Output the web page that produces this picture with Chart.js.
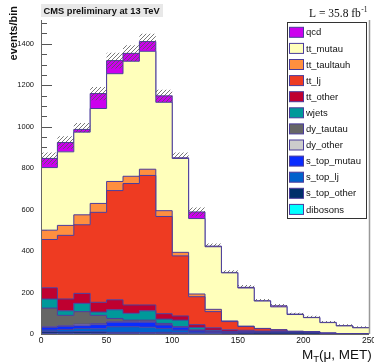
<!DOCTYPE html>
<html>
<head>
<meta charset="utf-8">
<script src="https://cdn.jsdelivr.net/npm/chart.js@4/dist/chart.umd.min.js"></script>
<style>
  html, body { margin: 0; padding: 0; background: #fff; }
  canvas { display: block; }
</style>
</head>
<body>
<canvas id="c" width="374" height="364"></canvas>
<script>
// bin edges of M_T(mu, MET), 20 bins of 12.5
const binEdges = [0, 12.5, 25, 37.5, 50, 62.5, 75, 87.5, 100, 112.5, 125,
  137.5, 150, 162.5, 175, 187.5, 200, 212.5, 225, 237.5, 250];

// stacked backgrounds, bottom of the stack first
const dibosons    = [3, 3, 3, 3, 2, 2, 2, 2, 2, 1, 1, 0, 0, 0, 0, 0, 0, 0, 0, 0];
const s_top_other = [8, 7, 8, 7, 6, 6, 5, 6, 4, 3, 3, 4, 6, 8, 9, 9, 8, 2, 1, 1];
const s_top_lj    = [8, 12, 16, 15, 27, 27, 26, 19, 13, 6, 4, 2, 2, 1, 1, 1, 1, 1, 0, 0];
const s_top_mutau = [13, 15, 13, 20, 22, 22, 24, 16, 14, 7, 4, 2, 2, 1, 1, 0, 0, 0, 0, 0];
const dy_other    = [3, 3, 7, 5, 2, 2, 2, 2, 2, 1, 0, 0, 0, 0, 0, 0, 0, 0, 0, 0];
const dy_tautau   = [90, 50, 61, 40, 16, 8, 8, 6, 0, 2, 1, 1, 0, 0, 0, 0, 0, 0, 0, 0];
const wjets       = [44, 22, 40, 16, 42, 33, 45, 21, 32, 12, 5, 3, 2, 1, 0, 0, 0, 0, 0, 0];
const tt_other    = [54, 57, 48, 47, 48, 40, 28, 26, 20, 13, 12, 8, 6, 3, 4, 1, 1, 0, 0, 0];
const tt_lj       = [233, 307, 331, 434, 527, 586, 625, 469, 290, 135, 78, 40, 18, 12, 5, 2, 1, 1, 0, 0];
const tt_taultauh = [45, 48, 48, 43, 44, 35, 30, 28, 17, 13, 11, 3, 2, 1, 1, 0, 0, 0, 0, 0];
const tt_mutau    = [302, 355, 399, 458, 520, 555, 569, 523, 453, 364, 302, 232, 184, 132, 110, 81, 68, 51, 38, 29];
const qcd         = [44, 45, 13, 72, 63, 38, 47, 31, 3, 32, 3, 2, 3, 1, 5, 2, 1, 1, 1, 1];

// uncertainty on the total (hatched band)
const totalErr = [29, 30, 31, 32, 38, 39, 38, 30, 26, 21, 13, 11, 11, 9, 9, 7, 8, 7, 7, 6];

const yTicks = [0, 200, 400, 600, 800, 1000, 1200, 1400];
const xTicks = [0, 50, 100, 150, 200, 250];

const samples = [
  { label: "dibosons", data: dibosons, color: "#00ffff" },
  { label: "s_top_other", data: s_top_other, color: "#00306a" },
  { label: "s_top_lj", data: s_top_lj, color: "#0062cc" },
  { label: "s_top_mutau", data: s_top_mutau, color: "#0a2cff" },
  { label: "dy_other", data: dy_other, color: "#cccccc" },
  { label: "dy_tautau", data: dy_tautau, color: "#666666" },
  { label: "wjets", data: wjets, color: "#00999a" },
  { label: "tt_other", data: tt_other, color: "#bf0030" },
  { label: "tt_lj", data: tt_lj, color: "#ee3b22" },
  { label: "tt_taultauh", data: tt_taultauh, color: "#ff8f3f" },
  { label: "tt_mutau", data: tt_mutau, color: "#ffffbb" },
  { label: "qcd", data: qcd, color: "#cc00ee" },
];

const OUTLINE = "#4a3c9c";
const SANS = "'Liberation Sans', Arial, sans-serif";

// turn per-bin values into step points (last value repeated at the right edge)
function steps(vals) {
  return binEdges.map((e, i) => ({ x: e, y: vals[Math.min(i, vals.length - 1)] }));
}

const totals = binEdges.slice(0, -1).map((_, i) =>
  samples.reduce((s, d) => s + d.data[i], 0));
const bandLow = totals.map((t, i) => t - Math.min(totalErr[i], qcd[i]));
const bandHigh = totals.map((t, i) => t + totalErr[i]);

// hatch pattern for the error band
const pc = document.createElement("canvas");
pc.width = 4; pc.height = 4;
const pg = pc.getContext("2d");
pg.strokeStyle = "#555";
pg.lineWidth = 0.8;
pg.beginPath();
pg.moveTo(0, 4); pg.lineTo(4, 0);
pg.moveTo(-1, 1); pg.lineTo(1, -1);
pg.moveTo(3, 5); pg.lineTo(5, 3);
pg.stroke();
const hatch = pg.createPattern(pc, "repeat");

const datasets = samples.map((s, i) => ({
  label: s.label,
  data: steps(s.data),
  backgroundColor: s.color,
  borderColor: OUTLINE,
  borderWidth: 1,
  fill: i === 0 ? "origin" : "-1",
  stepped: true,
  pointRadius: 0,
  yAxisID: "y",
}));
datasets.push({
  label: "errLow",
  data: steps(bandLow),
  borderColor: "transparent",
  borderWidth: 0,
  fill: false,
  stepped: true,
  pointRadius: 0,
  yAxisID: "y2",
  order: -1,
});
datasets.push({
  label: "errHigh",
  data: steps(bandHigh),
  borderColor: "transparent",
  backgroundColor: hatch,
  borderWidth: 0,
  fill: "-1",
  stepped: true,
  pointRadius: 0,
  yAxisID: "y2",
  order: -1,
});

const rootStyle = {
  id: "rootStyle",
  beforeDatasetsDraw(chart) {
    // ticks point into the frame and sit under the histograms
    const { ctx, chartArea: a, scales } = chart;
    ctx.save();
    ctx.strokeStyle = "#555";
    ctx.lineWidth = 1;
    ctx.beginPath();
    for (let v = 0; v <= 1500; v += 50) {
      const y = Math.round(scales.y.getPixelForValue(v)) + 0.5;
      const len = v % 200 === 0 ? 11 : 6;
      ctx.moveTo(a.left, y);
      ctx.lineTo(a.left + len, y);
    }
    ctx.stroke();
    ctx.restore();
  },
  afterDraw(chart) {
    const { ctx, chartArea: a } = chart;
    ctx.save();

    // frame
    ctx.strokeStyle = "#666";
    ctx.lineWidth = 1;
    ctx.beginPath();
    ctx.moveTo(a.left + 0.5, a.top);
    ctx.lineTo(a.left + 0.5, a.bottom + 0.5);
    ctx.lineTo(a.right, a.bottom + 0.5);
    ctx.stroke();
    ctx.strokeStyle = "#999";
    ctx.lineWidth = 1.5;
    ctx.beginPath();
    ctx.moveTo(a.right + 0.5, a.top);
    ctx.lineTo(a.right + 0.5, a.bottom);
    ctx.stroke();

    // title box
    ctx.fillStyle = "#e8e8e8";
    ctx.fillRect(41, 4, 122, 13);
    ctx.fillStyle = "#111";
    ctx.font = "bold 9.3px " + SANS;
    ctx.textBaseline = "middle";
    ctx.textAlign = "left";
    ctx.fillText("CMS preliminary at 13 TeV", 43.5, 11);

    // luminosity
    ctx.font = "11.5px 'Liberation Serif', 'Times New Roman', serif";
    ctx.textBaseline = "alphabetic";
    const lumi = "L = 35.8 fb";
    ctx.fillText(lumi, 309, 16.5);
    const lw = ctx.measureText(lumi).width;
    ctx.font = "7.5px 'Liberation Serif', 'Times New Roman', serif";
    ctx.fillText("-1", 309 + lw + 0.5, 11.5);

    // y title
    ctx.save();
    ctx.translate(14, 6);
    ctx.rotate(-Math.PI / 2);
    ctx.font = "bold 11px " + SANS;
    ctx.textAlign = "right";
    ctx.textBaseline = "middle";
    ctx.fillStyle = "#111";
    ctx.fillText("events/bin", 0, 0);
    ctx.restore();

    // x title with subscript
    ctx.fillStyle = "#111";
    ctx.textAlign = "left";
    ctx.textBaseline = "alphabetic";
    let x = 302;
    ctx.font = "13.5px " + SANS;
    ctx.fillText("M", x, 359);
    x += ctx.measureText("M").width;
    ctx.font = "9.5px " + SANS;
    ctx.fillText("T", x, 362);
    x += ctx.measureText("T").width;
    ctx.font = "13.5px " + SANS;
    ctx.fillText("(\u03bc, MET)", x, 359);

    // legend
    const lx = 287, ly = 22, lwid = 79, lh = 196;
    ctx.fillStyle = "#fff";
    ctx.fillRect(lx, ly, lwid, lh);
    ctx.strokeStyle = "#333";
    ctx.lineWidth = 1;
    ctx.strokeRect(lx + 0.5, ly + 0.5, lwid, lh);
    ctx.font = "9.5px " + SANS;
    ctx.textBaseline = "middle";
    const entries = chart.data.datasets.filter(d => d.yAxisID === "y").slice().reverse();
    entries.forEach((d, i) => {
      const cy = 32.3 + i * 16.1;
      ctx.fillStyle = d.backgroundColor;
      ctx.fillRect(289.5, cy - 5, 14, 10);
      ctx.strokeStyle = OUTLINE;
      ctx.strokeRect(289.5, cy - 5, 14, 10);
      ctx.fillStyle = "#111";
      ctx.fillText(d.label, 306, cy + 0.5);
    });

    ctx.restore();
  },
};

new Chart(document.getElementById("c"), {
  type: "line",
  data: { datasets },
  plugins: [rootStyle],
  options: {
    responsive: false,
    animation: false,
    layout: { padding: { top: 20, right: 5, left: 0, bottom: 0 } },
    plugins: {
      legend: { display: false },
      tooltip: { enabled: false },
      title: { display: false },
    },
    scales: {
      x: {
        type: "linear",
        min: 0,
        max: 250,
        grid: { display: false, drawTicks: false },
        border: { display: false },
        afterBuildTicks: s => { s.ticks = xTicks.map(v => ({ value: v })); },
        ticks: {
          font: { family: "'Liberation Sans', Arial, sans-serif", size: 8.5 },
          color: "#111",
          padding: 2,
          maxRotation: 0,
          callback: v => String(v),
        },
        afterFit: s => { s.height = 30; s.paddingLeft = 0; s.paddingRight = 0; },
      },
      y: {
        type: "linear",
        stacked: true,
        min: 0,
        max: 1515,
        grid: { display: false, drawTicks: false },
        border: { display: false },
        afterBuildTicks: s => { s.ticks = yTicks.map(v => ({ value: v })); },
        ticks: {
          font: { family: "'Liberation Sans', Arial, sans-serif", size: 7.5 },
          color: "#111",
          padding: 7,
          callback: v => String(v),
        },
        afterFit: s => { s.width = 41; s.paddingTop = 0; s.paddingBottom = 0; },
      },
      y2: {
        type: "linear",
        display: false,
        min: 0,
        max: 1515,
      },
    },
  },
});
</script>
</body>
</html>
